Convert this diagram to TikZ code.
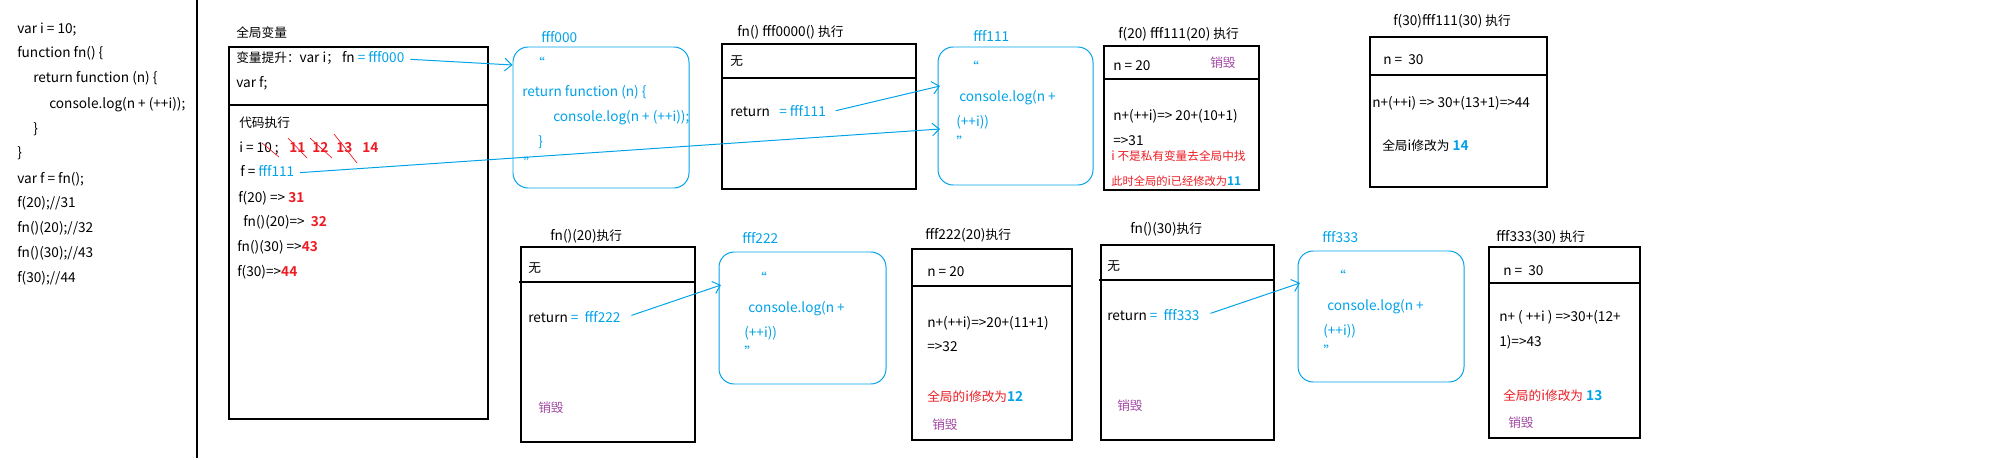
\documentclass[tikz,border=0pt]{standalone}
\usepackage{fontspec}
\setmainfont{Noto Sans CJK SC}[BoldFont={Noto Sans CJK SC Bold}]
\newfontfamily\cjk{Noto Sans CJK SC}[Scale=0.93,BoldFont={Noto Sans CJK SC Bold}]
\newcommand{\cjktxt}[1]{{\cjk #1}}
\usepackage{tikz}
\usetikzlibrary{arrows.meta,positioning,fit}
\definecolor{memblue}{HTML}{00A2E8}
\definecolor{hotred}{HTML}{ED1C24}
\definecolor{killpurple}{HTML}{A349A4}

\begin{document}
\begin{tikzpicture}[x=0.025cm,y=-0.025cm,
  every node/.style={font=\fontsize{9.7}{11}\selectfont},
  txt/.style={anchor=west,inner sep=0pt,text height=7pt,text depth=2pt},
  blu/.style={txt,text=memblue},
  red/.style={txt,text=hotred},
  kill/.style={txt,text=killpurple},
  box/.style={draw,line width=0.8pt,inner sep=0pt},
  membox/.style={draw=memblue,line width=0.7pt,rounded corners=0.38cm,inner sep=0pt},
  arrow/.style={-{Straight Barb[length=5pt,width=9pt]},line width=0.7pt,color=memblue},
  strike/.style={hotred,line width=0.5pt}]
  \useasboundingbox (0,0) rectangle (2000,460);
  % source code
  \node[txt] (c1) at (17,30) {var i = 10;};
  \node[txt] (c2) at (17,54) {function fn() \{};
  \node[txt] (c3) at (33,79) {return function (n) \{};
  \node[txt] (c4) at (49,105) {console.log(n + (++i));};
  \node[txt] (c5) at (33,130) {\}};
  \node[txt] (c6) at (17,154) {\}};
  \node[txt] (c7) at (17,180) {var f = fn();};
  \node[txt] (c8) at (17,204) {f(20);//31};
  \node[txt] (c9) at (17,229) {fn()(20);//32};
  \node[txt] (c10) at (17,254) {fn()(30);//43};
  \node[txt] (c11) at (17,279) {f(30);//44};
  \draw[line width=0.8pt] (197,0) -- (197,458);
  % global scope
  \node[txt] (globT) at (236,34) {\cjktxt{全局变量}};
  \node[box,fit={(229,47) (488,419)}] (glob) {};
  \draw[line width=0.8pt] (229,105) -- (488,105);
  \node[txt] (g1) at (236,59) {\cjktxt{变量提升：}var i\cjktxt{；} fn \textcolor{memblue}{= fff000}};
  \node[txt] (g2) at (236,84) {var f;};
  \node[txt] (g3) at (239,124) {\cjktxt{代码执行}};
  \node[txt] (g4) at (239,149) {i = 10 ;};
  \node[red,font=\fontsize{9.7}{11}\selectfont\bfseries] (i11) at (289,149) {11};
  \node[red,font=\fontsize{9.7}{11}\selectfont\bfseries] (i12) at (312,149) {12};
  \node[red,font=\fontsize{9.7}{11}\selectfont\bfseries] (i13) at (336,149) {13};
  \node[red,font=\fontsize{9.7}{11}\selectfont\bfseries] (i14) at (362,149) {14};
  \draw[strike] (262,143) -- (279,157);
  \draw[strike] (288,138) -- (307,158);
  \draw[strike] (310,138) -- (332,158);
  \draw[strike] (334,134) -- (357,163);
  \node[txt] (g5) at (240,173) {f = \textcolor{memblue}{fff111}};
  \node[txt] (g6) at (238,199) {f(20) => \textcolor{hotred}{\textbf{31}}};
  \node[txt] (g7) at (243,223) {fn()(20)=> \ \textcolor{hotred}{\textbf{32}}};
  \node[txt] (g8) at (237,248) {fn()(30) =>\textcolor{hotred}{\textbf{43}}};
  \node[txt] (g9) at (237,273) {f(30)=>\textcolor{hotred}{\textbf{44}}};
  % heap fff000
  \node[blu] (h000T) at (541,39) {fff000};
  \node[membox,fit={(513,47) (689,188)}] (h000) {};
  \node[blu] (q000a) at (531,65) {“};
  \node[blu] (h000a) at (522,93) {return function (n) \{};
  \node[blu] (h000b) at (553,118) {console.log(n + (++i));};
  \node[blu] (h000c) at (538,143) {\}};
  \node[blu] (q000b) at (523,165) {”};
  % fn() fff0000() call
  \node[txt] (fnT) at (737,33) {fn() fff0000() \cjktxt{执行}};
  \node[box,fit={(722,44) (916,189)}] (fn) {};
  \draw[line width=0.8pt] (722,78) -- (916,78);
  \node[txt] (fn1) at (730,62) {\cjktxt{无}};
  \node[txt] (fn2) at (730,113) {return};
  \node[blu] (fnR) at (779,113) {= fff111};
  % heap fff111
  \node[blu] (h111T) at (973,38) {fff111};
  \node[membox,fit={(938,47) (1093,185)}] (h111) {};
  \node[blu] (q111a) at (965,69) {“};
  \node[blu] (h111a) at (959,98) {console.log(n +};
  \node[blu] (h111b) at (956,123) {(++i))};
  \node[blu] (q111b) at (956,144) {”};
  % f(20)
  \node[txt] (f20T) at (1118,35) {f(20) fff111(20) \cjktxt{执行}};
  \node[box,fit={(1104,46) (1259,190)}] (f20) {};
  \draw[line width=0.8pt] (1104,79) -- (1259,79);
  \node[txt] (f20a) at (1113,67) {n = 20};
  \node[kill] (f20k) at (1210,64) {\cjktxt{销毁}};
  \node[txt] (f20b) at (1113,117) {n+(++i)=> 20+(10+1)};
  \node[txt] (f20c) at (1113,142) {=>31};
  \node[red,font=\fontsize{8.9}{11}\selectfont] (f20d) at (1111,157) {i \cjktxt{不是私有变量去全局中找}};
  \node[red,font=\fontsize{8.6}{11}\selectfont] (f20e) at (1111,182) {\cjktxt{此时全局的}i\cjktxt{已经修改为}\textcolor{memblue}{\textbf{11}}};
  % f(30)
  \node[txt] (f30T) at (1393,22) {f(30)fff111(30) \cjktxt{执行}};
  \node[box,fit={(1370,37) (1547,187)}] (f30) {};
  \draw[line width=0.8pt] (1370,75) -- (1548,75);
  \node[txt] (f30a) at (1383,61) {n = \ 30};
  \node[txt] (f30b) at (1372,104) {n+(++i) => 30+(13+1)=>44};
  \node[txt] (f30c) at (1382,147) {\cjktxt{全局}i\cjktxt{修改为} \textcolor{memblue}{\textbf{14}}};
  % fn()(20)
  \node[txt] (fn20T) at (550,237) {fn()(20)\cjktxt{执行}};
  \node[box,fit={(521,247) (695,442)}] (fn20) {};
  \draw[line width=0.8pt] (519,282) -- (695,282);
  \node[txt] (fn20a) at (528,269) {\cjktxt{无}};
  \node[txt] (fn20R) at (528,319) {return \textcolor{memblue}{= \ fff222}};
  \node[kill] (fn20k) at (538,409) {\cjktxt{销毁}};
  % heap fff222
  \node[blu] (h222T) at (742,240) {fff222};
  \node[membox,fit={(719,252) (886,384)}] (h222) {};
  \node[blu] (q222a) at (753,280) {“};
  \node[blu] (h222a) at (748,309) {console.log(n +};
  \node[blu] (h222b) at (744,334) {(++i))};
  \node[blu] (q222b) at (744,354) {”};
  % fff222(20)
  \node[txt] (c222T) at (925,236) {fff222(20)\cjktxt{执行}};
  \node[box,fit={(912,249) (1072,440)}] (c222) {};
  \draw[line width=0.8pt] (912,286) -- (1072,286);
  \node[txt] (c222a) at (927,273) {n = 20};
  \node[txt] (c222b) at (927,324) {n+(++i)=>20+(11+1)};
  \node[txt] (c222c) at (927,348) {=>32};
  \node[red] (c222d) at (927,398) {\cjktxt{全局的}i\cjktxt{修改为}\textcolor{memblue}{\textbf{12}}};
  \node[kill] (c222k) at (932,426) {\cjktxt{销毁}};
  % fn()(30)
  \node[txt] (fn30T) at (1130,230) {fn()(30)\cjktxt{执行}};
  \node[box,fit={(1101,245) (1274,440)}] (fn30) {};
  \draw[line width=0.8pt] (1099,280) -- (1274,280);
  \node[txt] (fn30a) at (1107,267) {\cjktxt{无}};
  \node[txt] (fn30R) at (1107,317) {return \textcolor{memblue}{= \ fff333}};
  \node[kill] (fn30k) at (1117,407) {\cjktxt{销毁}};
  % heap fff333
  \node[blu] (h333T) at (1322,239) {fff333};
  \node[membox,fit={(1298,251) (1464,382)}] (h333) {};
  \node[blu] (q333a) at (1332,278) {“};
  \node[blu] (h333a) at (1327,307) {console.log(n +};
  \node[blu] (h333b) at (1323,332) {(++i))};
  \node[blu] (q333b) at (1323,353) {”};
  % fff333(30)
  \node[txt] (c333T) at (1496,238) {fff333(30) \cjktxt{执行}};
  \node[box,fit={(1489,247) (1640,438)}] (c333) {};
  \draw[line width=0.8pt] (1489,283) -- (1640,283);
  \node[txt] (c333a) at (1503,272) {n = \ 30};
  \node[txt] (c333b) at (1499,318) {n+ ( ++i ) =>30+(12+};
  \node[txt] (c333c) at (1499,343) {1)=>43};
  \node[red] (c333d) at (1503,397) {\cjktxt{全局的}i\cjktxt{修改为} \textcolor{memblue}{\textbf{13}}};
  \node[kill] (c333k) at (1508,424) {\cjktxt{销毁}};
  % pointers
  \coordinate (in111a) at (940,86);
  \coordinate (in111b) at (940,129);
  \coordinate (in222) at (721,285);
  \coordinate (in333) at (1300,283);
  \draw[arrow,shorten <=4pt] (g1.east) -- (h000.west |- q000a);
  \draw[arrow,shorten <=4pt] (g5.east) -- (in111b);
  \draw[arrow,shorten <=7pt] (fnR.east) -- (in111a);
  \draw[arrow,shorten <=8pt] (fn20R.east) -- (in222);
  \draw[arrow,shorten <=8pt] (fn30R.east) -- (in333);
\end{tikzpicture}
\end{document}
